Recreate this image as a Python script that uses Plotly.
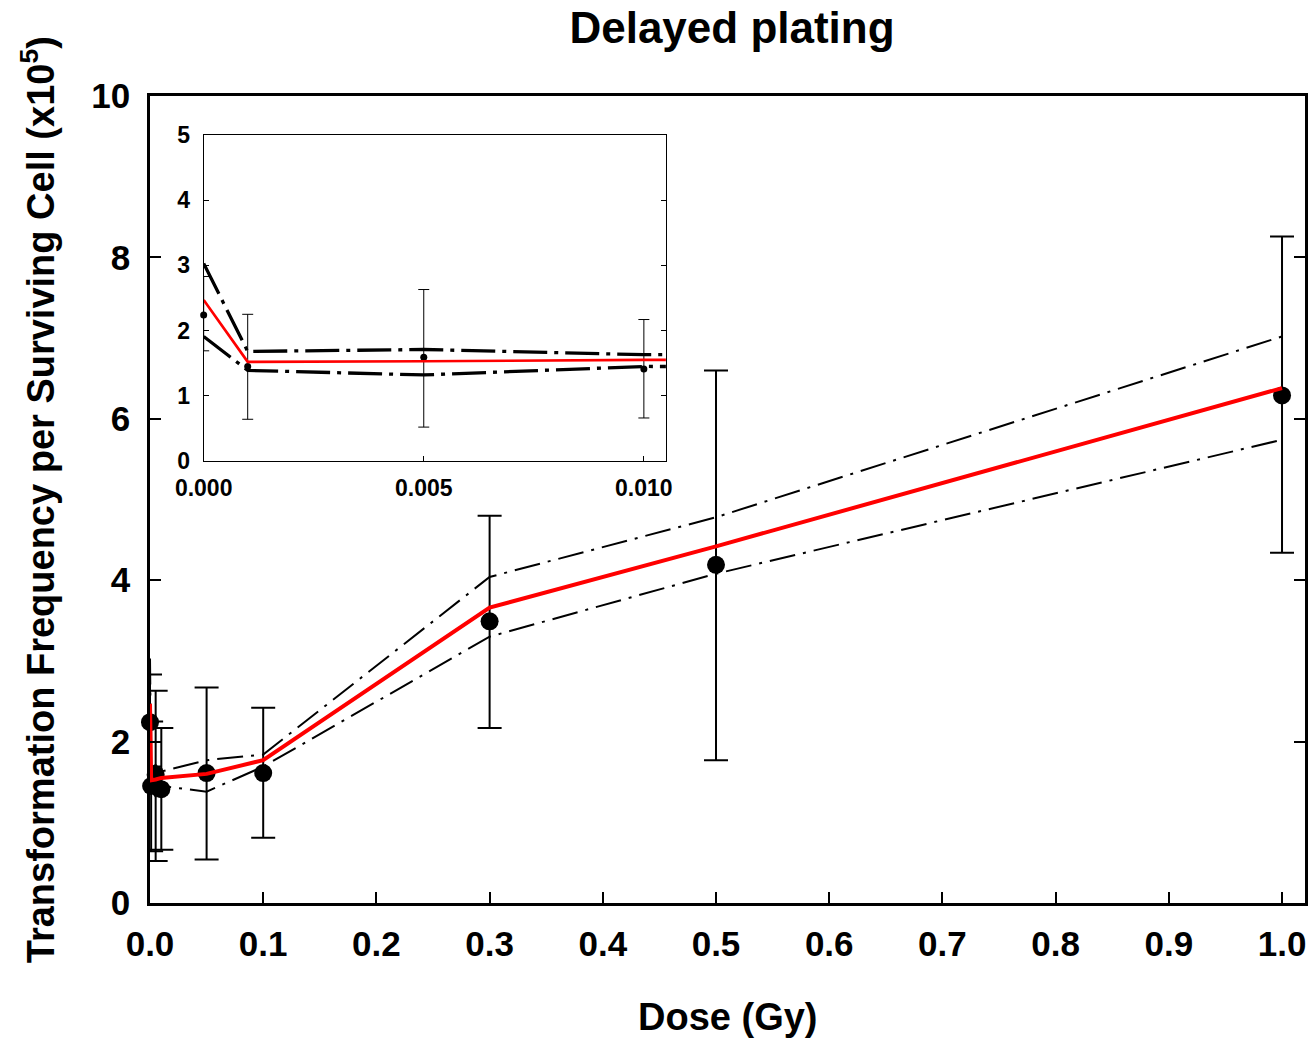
import plotly.graph_objects as go

# Dose points (Gy) and measured transformation frequency (x10^5)
dose = [0, 0.001, 0.005, 0.01, 0.05, 0.1, 0.3, 0.5, 1.0]
freq = [2.24, 1.45, 1.59, 1.41, 1.61, 1.61, 3.49, 4.19, 6.29]
err_upper = [2.83, 2.25, 2.63, 2.17, 2.67, 2.42, 4.80, 6.60, 8.26]
err_lower = [1.69, 0.64, 0.52, 0.66, 0.54, 0.81, 2.17, 1.77, 4.34]

# Model fit and its confidence band
fit = [2.47, 1.52, 1.53, 1.55, 1.60, 1.77, 3.66, 4.42, 6.38]
band_hi = [3.03, 1.68, 1.71, 1.63, 1.77, 1.84, 4.04, 4.78, 7.02]
band_lo = [1.91, 1.39, 1.32, 1.45, 1.38, 1.69, 3.30, 4.08, 5.74]

main_xticks = [0, 0.1, 0.2, 0.3, 0.4, 0.5, 0.6, 0.7, 0.8, 0.9, 1.0]
main_xlabels = ["0.0", "0.1", "0.2", "0.3", "0.4", "0.5", "0.6", "0.7", "0.8", "0.9", "1.0"]
main_yticks = [0, 2, 4, 6, 8, 10]
inset_xticks = [0, 0.005, 0.01]
inset_xlabels = ["0.000", "0.005", "0.010"]
inset_yticks = [0, 1, 2, 3, 4, 5]

FONT = "Liberation Sans, Arial, sans-serif"
RED = "#ff0000"

plus = [u - f for u, f in zip(err_upper, freq)]
minus = [f - l for f, l in zip(freq, err_lower)]

fig = go.Figure()


def add_panel(xa, ya, band_w, band_dash, fit_w, marker_size, err_w, cap_w):
    for band in (band_hi, band_lo):
        fig.add_trace(go.Scatter(
            x=dose, y=band, mode="lines", xaxis=xa, yaxis=ya,
            line=dict(color="black", width=band_w, dash=band_dash),
            hoverinfo="skip", showlegend=False, cliponaxis=True))
    fig.add_trace(go.Scatter(
        x=dose, y=freq, mode="markers", xaxis=xa, yaxis=ya,
        marker=dict(color="black", size=marker_size),
        error_y=dict(type="data", symmetric=False, array=plus, arrayminus=minus,
                     color="black", thickness=err_w, width=cap_w),
        showlegend=False, cliponaxis=False))
    fig.add_trace(go.Scatter(
        x=dose, y=fit, mode="lines", xaxis=xa, yaxis=ya,
        line=dict(color=RED, width=fit_w),
        hoverinfo="skip", showlegend=False, cliponaxis=True))


add_panel("x", "y", 2, "26px,8px,3px,8px", 4, 18, 2, 12)
add_panel("x2", "y2", 3.3, "34px,7px,4px,7px", 2.7, 7, 1, 5.5)

axis_font = dict(family=FONT, size=35, color="black", weight="bold")
inset_font = dict(family=FONT, size=23, color="black", weight="bold")

fig.update_layout(
    width=1314, height=1041,
    margin=dict(l=150, r=2, t=96, b=138),
    paper_bgcolor="white", plot_bgcolor="white",
    title=dict(text="Delayed plating", x=732 / 1314, y=1 - 28 / 1041,
               xref="container", yref="container",
               xanchor="center", yanchor="middle",
               font=dict(family=FONT, size=44, color="black", weight="bold")),
    xaxis=dict(range=[0, 1.0203], tickvals=main_xticks, ticktext=main_xlabels,
               ticks="inside", ticklen=11, tickwidth=2, tickcolor="black",
               showline=True, linewidth=2.5, linecolor="black", mirror=True,
               showgrid=False, zeroline=False, tickfont=axis_font,
               ticklabelstandoff=8, domain=[0, 1]),
    yaxis=dict(range=[0, 10], tickvals=main_yticks,
               ticks="inside", ticklen=11, tickwidth=2, tickcolor="black",
               showline=True, linewidth=2.5, linecolor="black", mirror="ticks",
               showgrid=False, zeroline=False, tickfont=axis_font,
               ticklabelstandoff=10, domain=[0, 1]),
    xaxis2=dict(range=[0, 0.0105], tickvals=inset_xticks, ticktext=inset_xlabels,
                ticks="inside", ticklen=5, tickwidth=1, tickcolor="black",
                showline=True, linewidth=1, linecolor="black", mirror=True,
                showgrid=False, zeroline=False, tickfont=inset_font,
                ticklabelstandoff=6,
                domain=[54 / 1162, 519 / 1162], anchor="y2"),
    yaxis2=dict(range=[0, 5], tickvals=inset_yticks,
                ticks="inside", ticklen=5, tickwidth=1, tickcolor="black",
                showline=True, linewidth=1, linecolor="black", mirror="ticks",
                showgrid=False, zeroline=False, tickfont=inset_font,
                ticklabelstandoff=8,
                domain=[442 / 807, 768 / 807], anchor="x2"),
    annotations=[
        dict(text="Dose (Gy)", xref="paper", yref="paper",
             x=581 / 1162, y=(903 - 1017) / 807, xanchor="center", yanchor="middle",
             showarrow=False,
             font=dict(family=FONT, size=38, color="black", weight="bold")),
        dict(text="Transformation Frequency per Surviving Cell (x10<sup>5</sup>)",
             xref="paper", yref="paper", x=(37 - 150) / 1162, y=0.5,
             xanchor="center", yanchor="middle", textangle=-90, showarrow=False,
             font=dict(family=FONT, size=38, color="black", weight="bold")),
    ],
)

fig.write_html("out.html")
